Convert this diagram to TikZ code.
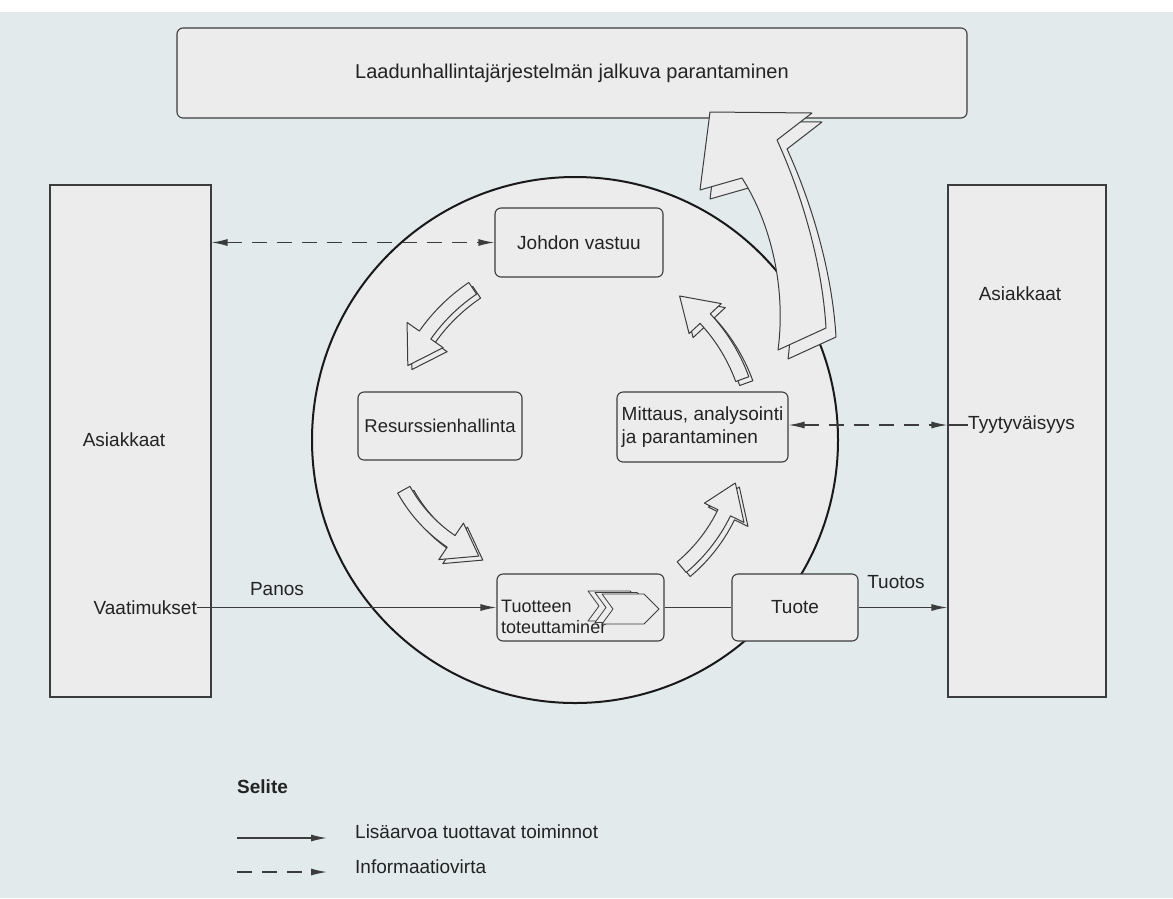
\documentclass[tikz,border=0pt]{standalone}
\usepackage{fontspec}
\setmainfont{Liberation Sans}
\usetikzlibrary{arrows.meta}
\definecolor{bgc}{RGB}{226,234,236}
\definecolor{boxc}{RGB}{236,236,236}
\definecolor{linec}{RGB}{60,60,60}
\definecolor{txtc}{RGB}{35,35,35}
\tikzset{
  rbox/.style={draw=linec, fill=boxc, line width=1.1pt, rounded corners=6pt, inner sep=0pt, font=\fontsize{19}{23}\selectfont, text=txtc},
  sqbox/.style={draw=linec, fill=boxc, line width=1.1pt, inner sep=0pt},
  lbl/.style={font=\fontsize{19}{23}\selectfont, text=txtc, inner sep=0pt},
  conn/.style={draw=linec, line width=1.3pt},
  arr/.style={-{Latex[length=16pt,width=7pt]}},
  arrboth/.style={{Latex[length=16pt,width=7pt]}-{Latex[length=16pt,width=7pt]}},
  dashline/.style={dash pattern=on 15pt off 10pt},
  blockarrow/.style={draw=linec, fill=boxc, line width=1pt, line join=round},
}
% cx, cy, r, start angle, tip angle, head-base angle, half shaft width, half head width
\newcommand{\ringarr}[8]{%
  \path[blockarrow] plot[domain=#4:#6, samples=16] ({#1+(#3+#7)*cos(\x)},{#2+(#3+#7)*sin(\x)})
   -- ({#1+(#3+#8)*cos(#6)},{#2+(#3+#8)*sin(#6)})
   -- ({#1+#3*cos(#5)},{#2+#3*sin(#5)})
   -- ({#1+(#3-#8)*cos(#6)},{#2+(#3-#8)*sin(#6)})
   -- plot[domain=#6:#4, samples=16] ({#1+(#3-#7)*cos(\x)},{#2+(#3-#7)*sin(\x)})
   -- cycle;}
\newcommand{\ringarrthreed}[8]{%
  \begin{scope}[shift={(4,4)}]\ringarr{#1}{#2}{#3}{#4}{#5}{#6}{#7}{#8}\end{scope}
  \ringarr{#1}{#2}{#3}{#4}{#5}{#6}{#7}{#8}}
\newcommand{\chevronshape}{(588,591) -- (630,591) -- (645,606) -- (630,621) -- (588,621) -- (599,606) -- cycle}
\begin{document}
\begin{tikzpicture}[x=1pt,y=-1pt]
\useasboundingbox (0,0) rectangle (1173,898);
\fill[bgc] (0,0) rectangle (1173,898);
\fill[white] (0,0) rectangle (1173,12);

% outer boxes
\node[sqbox, minimum width=161pt, minimum height=512pt] (leftbox) at (130.5,441) {};
\node[sqbox, minimum width=158pt, minimum height=512pt] (rightbox) at (1027,441) {};
\node[rbox, minimum width=790pt, minimum height=90pt, font=\fontsize{20}{24}\selectfont] (topbox) at (572,73) {Laadunhallintajärjestelmän jalkuva parantaminen};

% circle
\node[circle, draw=black!90, fill=boxc, line width=2pt, minimum size=526pt, inner sep=0pt] (ring) at (575,440) {};

% texts in outer boxes
\node[lbl] (asleft) at (124,440) {Asiakkaat};
\node[lbl] (asright) at (1020,294) {Asiakkaat};
\node[lbl, anchor=east] (vaat) at (197,607.5) {Vaatimukset};
\node[lbl, anchor=west] (tyyt) at (968,425) {Tyytyväisyys};

% inner boxes
\node[rbox, minimum width=168pt, minimum height=69pt] (johdon) at (579,242.5) {Johdon vastuu};
\node[rbox, minimum width=164pt, minimum height=68pt, font=\fontsize{18.5}{22}\selectfont] (resurs) at (440,426) {Resurssienhallinta};
\node[rbox, minimum width=171pt, minimum height=70pt, align=left] (mittaus) at (702.5,427) {Mittaus, analysointi\\ja parantaminen};
\node[rbox, minimum width=167pt, minimum height=67pt] (tuotteen) at (580.5,607.5) {};
\node[lbl, anchor=west, align=left, font=\fontsize{18}{21}\selectfont] (tuottext) at (501,617) {Tuotteen\\toteuttaminer};
\node[rbox, minimum width=126pt, minimum height=67pt] (tuote) at (795,607.5) {Tuote};

% chevrons inside Tuotteen toteuttaminen
\path[blockarrow, line width=0.8pt] \chevronshape;
\path[blockarrow, line width=0.8pt, shift={(7,1.5)}] \chevronshape;
\path[blockarrow, line width=0.8pt, shift={(14,3)}] \chevronshape;

% connectors
\draw[conn, dashline, arrboth] (leftbox.east |- johdon.west) -- (johdon.west);
\draw[conn, dashline, arrboth] (mittaus.east |- tyyt.west) -- (rightbox.west |- tyyt.west);
\draw[conn] (rightbox.west |- tyyt.west) -- (tyyt.west);
\draw[conn, arr] (vaat.east) -- (tuotteen.west);
\node[lbl] (panos) at (277,589) {Panos};
\draw[conn] (tuotteen.east) -- (tuote.west);
\draw[conn, arr] (tuote.east) -- (tuote.east -| rightbox.west);
\node[lbl] (tuotos) at (896,582) {Tuotos};

% curved block arrows (cycle)
\ringarrthreed{575}{440}{183}{236}{204}{215}{7}{22}
\ringarrthreed{535}{417}{150}{151}{112}{124}{7}{22}
\ringarrthreed{575}{440}{166}{50}{15}{26}{7}{22}
\ringarrthreed{575}{440}{178}{340}{306}{317}{7}{22}

% big arrow to continual improvement
\path[blockarrow, shift={(10,9)}] (710,112) -- (812,113) -- (777,140) .. controls (800,190) and (822,260) .. (826,328) -- (778,350) .. controls (786,290) and (772,225) .. (742,178) -- (700,190) -- cycle;
\path[blockarrow] (710,112) -- (812,113) -- (777,140) .. controls (800,190) and (822,260) .. (826,328) -- (778,350) .. controls (786,290) and (772,225) .. (742,178) -- (700,190) -- cycle;

% legend
\node[lbl, anchor=west, font=\bfseries\fontsize{19}{23}\selectfont] (selite) at (237,787) {Selite};
\coordinate (la) at (237,838);
\coordinate (lb) at (327,838);
\coordinate (lc) at (237,872);
\coordinate (ld) at (327,872);
\draw[conn, arr] (la) -- (lb);
\draw[conn, dashline, arr] (lc) -- (ld);
\node[lbl, anchor=west] (leg1) at (355,832) {Lisäarvoa tuottavat toiminnot};
\node[lbl, anchor=west] (leg2) at (355,867) {Informaatiovirta};
\end{tikzpicture}
\end{document}
